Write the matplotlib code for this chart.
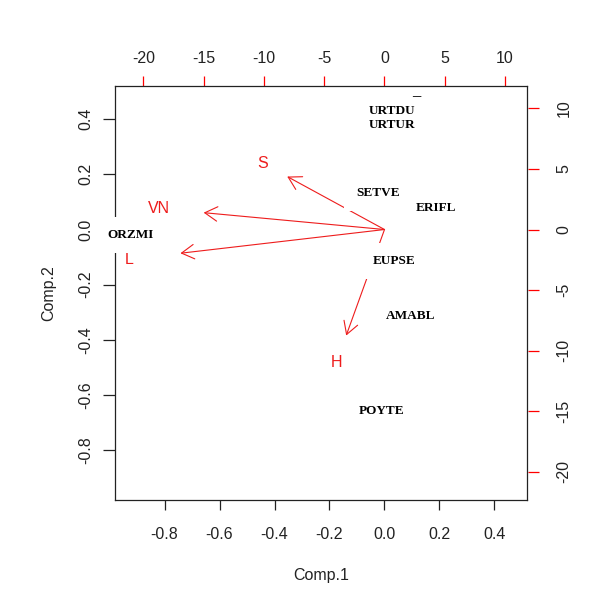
import matplotlib
matplotlib.use("Agg")
import matplotlib.pyplot as plt
import matplotlib.transforms as mtransforms
from matplotlib.patches import FancyArrowPatch

# ---- data ----
species = ["URTDU", "URTUR", "SETVE", "ERIFL", "ORZMI", "EUPSE", "AMABL", "POYTE", "–"]
comp1 = [0.028, 0.028, -0.024, 0.188, -0.925, 0.035, 0.095, -0.010, 0.114]
comp2 = [0.430, 0.379, 0.132, 0.077, -0.020, -0.115, -0.315, -0.657, 0.482]

variables = ["S", "VN", "L", "H"]
load1 = [-10.08, -18.74, -21.15, -3.97]
load2 = [5.47, 1.74, -2.45, -10.95]

xticks = [-0.8, -0.6, -0.4, -0.2, 0.0, 0.2, 0.4]
yticks = [-0.8, -0.6, -0.4, -0.2, 0.0, 0.2, 0.4]
sec_ticks = [-20, -15, -10, -5, 0, 5, 10]

lim = (-0.98, 0.52)
ratio = 22.8

SANS = "Liberation Sans"
SERIF = "Liberation Serif"

fig = plt.figure(figsize=(6.01, 5.91), dpi=100)
ax = fig.add_axes([115/601, 91/591, 412.5/601, 414/591])
ax.set_xlim(lim)
ax.set_ylim(lim)

for sp in ax.spines.values():
    sp.set_linewidth(0.9)
    sp.set_color("#222222")

ax.set_xticks(xticks)
ax.set_yticks(yticks)
ax.set_xticklabels([f"{v:.1f}" for v in xticks], fontfamily=SANS, fontsize=11.5, color="#222222")
ax.set_yticklabels([f"{v:.1f}" for v in yticks], fontfamily=SANS, fontsize=11.5, color="#222222",
                   rotation=90, va="center", ha="right")
ax.tick_params(axis="x", length=7.2, width=0.9, pad=12, color="#222222")
ax.tick_params(axis="y", length=8.5, width=0.9, pad=7, color="#222222")

# secondary axes (loadings scale)
secx = ax.secondary_xaxis("top", functions=(lambda v: v * ratio, lambda v: v / ratio))
secy = ax.secondary_yaxis("right", functions=(lambda v: v * ratio, lambda v: v / ratio))
secx.set_xticks(sec_ticks)
secy.set_yticks(sec_ticks)
secx.set_xticklabels([str(v) for v in sec_ticks], fontfamily=SANS, fontsize=11.5, color="#222222")
secy.set_yticklabels([str(v) for v in sec_ticks], fontfamily=SANS, fontsize=11.5, color="#222222",
                     rotation=90, va="center", ha="left")
secx.tick_params(length=7.2, width=0.9, pad=7, color="red")
secy.tick_params(length=8, width=0.9, pad=13, color="red")
secx.spines["top"].set_visible(False)
secy.spines["right"].set_visible(False)

# arrows + variable labels
trans = mtransforms.Affine2D().scale(1 / ratio) + ax.transData
for name, a, b in zip(variables, load1, load2):
    arr = FancyArrowPatch((0, 0), (0.8 * a, 0.8 * b), transform=trans,
                          arrowstyle="->,head_length=0.45,head_width=0.26",
                          mutation_scale=20, color="#ee1c1c", linewidth=0.8,
                          shrinkA=0, shrinkB=0, zorder=2)
    ax.add_patch(arr)
    ax.text(a, b, name, transform=trans, ha="center", va="center",
            fontfamily=SANS, fontsize=11.5, color="#ee1c1c", zorder=3)

# species labels with white boxes
for name, x, y in zip(species, comp1, comp2):
    if name == "–":
        ax.text(x, y, name, ha="center", va="center", fontfamily=SERIF,
                fontweight="bold", fontsize=12, color="black", zorder=6, clip_on=False)
        continue
    pad = 0.3 if name.startswith("URT") else 0.9
    ax.text(x, y, name, ha="center", va="center", fontfamily=SERIF,
            fontweight="bold", fontsize=9.5, color="black", zorder=5, clip_on=False,
            bbox=dict(boxstyle=f"square,pad={pad}", facecolor="white", edgecolor="none"))

fig.text(321/601, 1 - 575.5/591, "Comp.1", ha="center", va="center",
         fontfamily=SANS, fontsize=11.5, color="#222222")
fig.text(49/601, 1 - 293/591, "Comp.2", ha="center", va="center", rotation=90,
         fontfamily=SANS, fontsize=11.5, color="#222222")

fig.savefig("out.png", dpi=100)
